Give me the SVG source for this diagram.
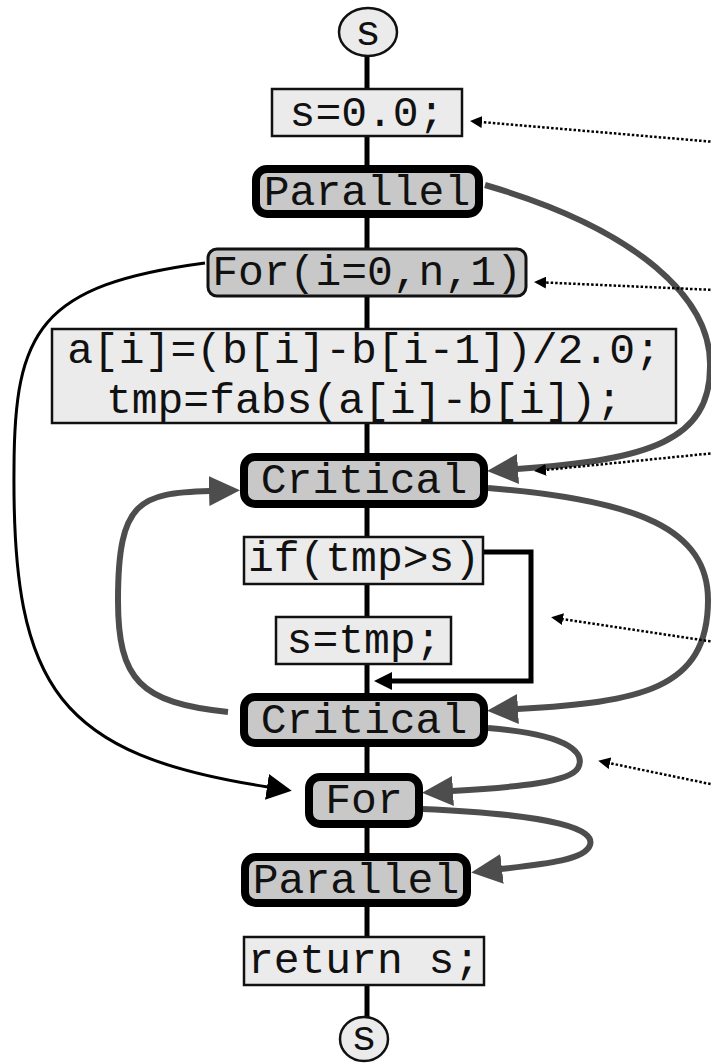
<svg xmlns="http://www.w3.org/2000/svg" width="711" height="1063" viewBox="0 0 711 1063">
  <defs>
    <style>
      text { font-family: "Liberation Mono", "Courier New", monospace; font-size: 43px; fill: #111; text-anchor: middle; }
      .stmt { fill: #ebebeb; stroke: #111; stroke-width: 2.5; }
      .loophead { fill: #c8c8c8; stroke: #111; stroke-width: 3; }
      .region { fill: #c8c8c8; stroke: #000; stroke-width: 8; }
      .term { fill: #ebebeb; stroke: #111; stroke-width: 2.5; }
      .spine { stroke: #000; stroke-width: 5; fill: none; }
      .sync { stroke: #4d4d4d; stroke-width: 6; fill: none; marker-end: url(#ah-gray); }
      .loop { stroke: #000; stroke-width: 3; fill: none; marker-end: url(#ah-black); }
      .branch { stroke: #000; stroke-width: 5; fill: none; marker-end: url(#ah-branch); }
      .note { stroke: #000; stroke-width: 2.5; stroke-dasharray: 2.5 2; fill: none; marker-end: url(#ah-dot); }
    </style>
    <marker id="ah-gray" markerUnits="userSpaceOnUse" markerWidth="32" markerHeight="30" refX="1" refY="15" orient="auto">
      <path d="M0,0 L31,15 L0,30 Z" fill="#4d4d4d"/>
    </marker>
    <marker id="ah-black" markerUnits="userSpaceOnUse" markerWidth="26" markerHeight="26" refX="1" refY="13" orient="auto">
      <path d="M0,0 L25,13 L0,26 Z" fill="#000"/>
    </marker>
    <marker id="ah-branch" markerUnits="userSpaceOnUse" markerWidth="19" markerHeight="18" refX="1" refY="9" orient="auto">
      <path d="M0,0 L18,9 L0,18 Z" fill="#000"/>
    </marker>
    <marker id="ah-dot" markerUnits="userSpaceOnUse" markerWidth="13" markerHeight="12" refX="1" refY="6" orient="auto">
      <path d="M0,0 L12,6 L0,12 Z" fill="#000"/>
    </marker>
  </defs>

  <rect width="711" height="1063" fill="#fff"/>

  <g id="connectors">
    <!-- control-flow spine -->
    <line class="spine" x1="367" y1="56" x2="367" y2="1018"/>
    <!-- region pairing arcs -->
    <path class="sync" d="M485,185 C640,230 712,300 710,367 C710,440 650,460 517,469"/>
    <path class="sync" d="M488,488 C640,500 708,530 708,600 C708,690 640,702 517,709"/>
    <path class="sync" d="M228,712 C140,703 118,680 118,600 C118,500 140,493 210,491"/>
    <path class="sync" d="M488,728 C575,735 585,755 578,768 C570,782 520,787 452,791"/>
    <path class="sync" d="M422,809 C560,815 595,830 590,845 C585,860 545,864 501,869"/>
    <!-- loop back-edge -->
    <path class="loop" d="M205,263 C40,285 14,330 14,470 C12,690 60,755 268,787"/>
    <!-- if branch skip -->
    <path class="branch" d="M484,552 L531,552 L531,681 L391,681"/>
    <!-- annotation pointers -->
    <path class="note" d="M715,142 L481,122"/>
    <path class="note" d="M715,290 L545,282.5"/>
    <path class="note" d="M715,453 L545,470"/>
    <path class="note" d="M715,642 L562,619"/>
    <path class="note" d="M715,785 L609,763"/>
  </g>

  <g id="start">
    <ellipse class="term" cx="368" cy="32" rx="29" ry="24"/>
    <text x="368" y="45">s</text>
  </g>
  <g id="init">
    <rect class="stmt" x="272" y="89" width="190" height="47"/>
    <text x="367" y="126">s=0.0;</text>
  </g>
  <g id="parallel-begin">
    <rect class="region" x="256" y="169" width="223" height="45" rx="11"/>
    <text x="367" y="205">Parallel</text>
  </g>
  <g id="for-begin">
    <rect class="loophead" x="208" y="249" width="318" height="47" rx="9"/>
    <text x="367" y="285">For(i=0,n,1)</text>
  </g>
  <g id="body">
    <rect class="stmt" x="52" y="329" width="624" height="94"/>
    <text x="364" y="363">a[i]=(b[i]-b[i-1])/2.0;</text>
    <text x="364" y="413">tmp=fabs(a[i]-b[i]);</text>
  </g>
  <g id="critical-begin">
    <rect class="region" x="244" y="457" width="240" height="47" rx="11"/>
    <text x="364" y="493">Critical</text>
  </g>
  <g id="if">
    <rect class="stmt" x="244" y="537" width="239" height="47"/>
    <text x="364" y="571">if(tmp&gt;s)</text>
  </g>
  <g id="assign">
    <rect class="stmt" x="276" y="617" width="175" height="47"/>
    <text x="364" y="653">s=tmp;</text>
  </g>
  <g id="critical-end">
    <rect class="region" x="244" y="697" width="240" height="46" rx="11"/>
    <text x="364" y="733">Critical</text>
  </g>
  <g id="for-end">
    <rect class="region" x="309" y="777" width="110" height="47" rx="11"/>
    <text x="364" y="813">For</text>
  </g>
  <g id="parallel-end">
    <rect class="region" x="245" y="857" width="222" height="46" rx="11"/>
    <text x="356" y="893">Parallel</text>
  </g>
  <g id="return">
    <rect class="stmt" x="244" y="937" width="240" height="48"/>
    <text x="364" y="973">return s;</text>
  </g>
  <g id="end">
    <ellipse class="term" cx="364" cy="1039" rx="24" ry="22"/>
    <text x="364" y="1050">s</text>
  </g>
</svg>
